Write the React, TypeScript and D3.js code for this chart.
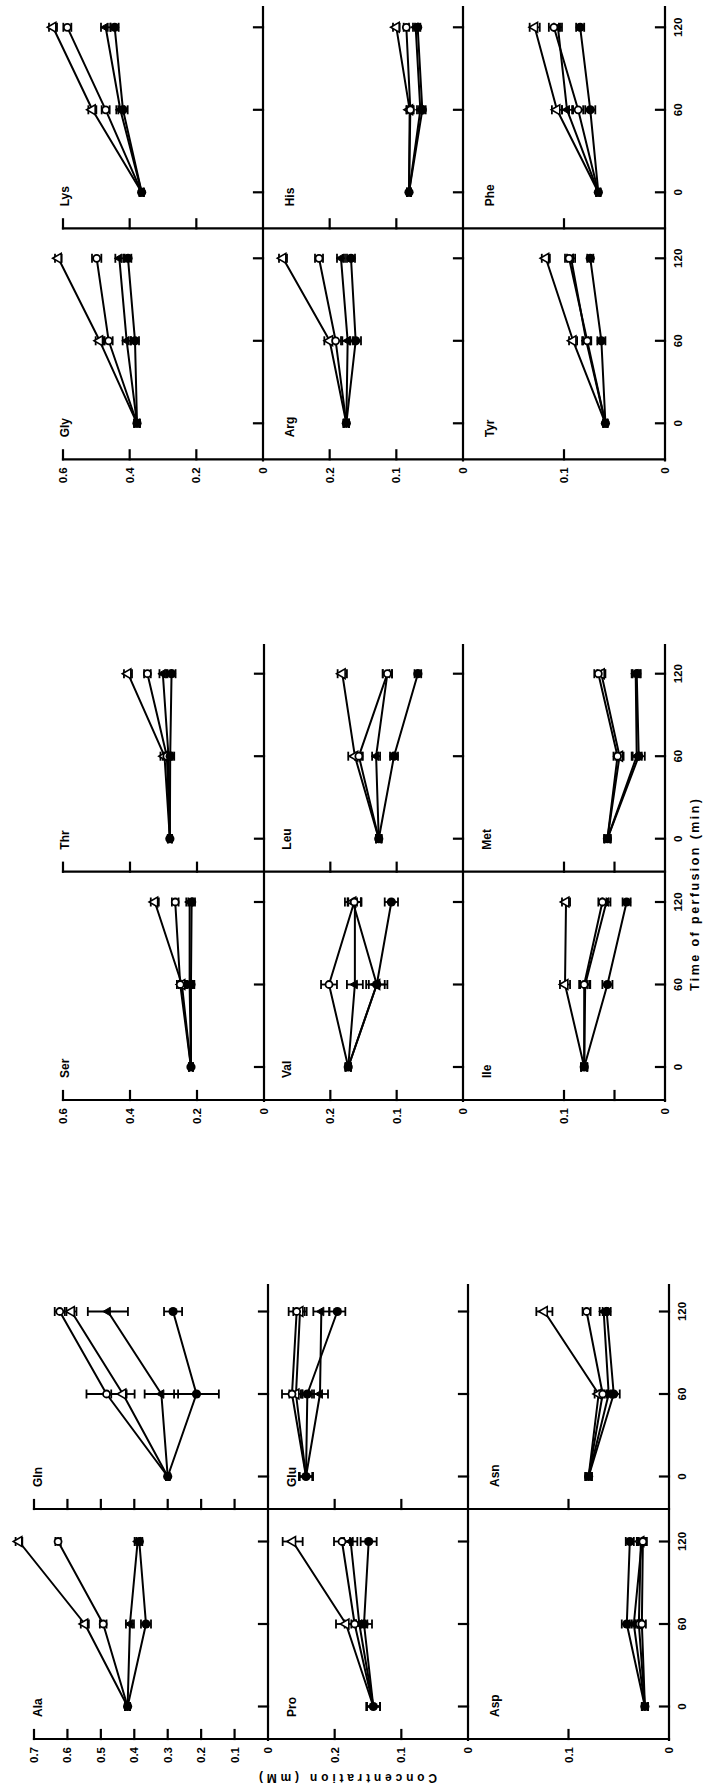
import React from 'react';
import * as d3 from 'd3';

// the whole figure is printed turned 90deg: concentration runs right->left, time runs bottom->top
const W = 705;
const H = 1788;

const times = [0, 60, 120];
// series order in every table: filled circle, open circle, open triangle, filled triangle
// rows = series, columns = time point

const alaMean = [[0.42, 0.365, 0.385], [0.42, 0.493, 0.628], [0.42, 0.548, 0.745], [0.42, 0.413, 0.39]];
const alaErr = [[0.007, 0.015, 0.009], [0.007, 0.01, 0.008], [0.007, 0.012, 0.01], [0.007, 0.012, 0.009]];
const glnMean = [[0.3, 0.214, 0.284], [0.3, 0.483, 0.623], [0.3, 0.434, 0.588], [0.3, 0.319, 0.479]];
const glnErr = [[0.005, 0.067, 0.027], [0.005, 0.06, 0.015], [0.005, 0.035, 0.015], [0.005, 0.05, 0.06]];
const proMean = [[0.142, 0.156, 0.149], [0.142, 0.17, 0.189], [0.142, 0.183, 0.263], [0.142, 0.163, 0.176]];
const proErr = [[0.01, 0.012, 0.012], [0.01, 0.015, 0.012], [0.01, 0.015, 0.015], [0.01, 0.012, 0.01]];
const gluMean = [[0.243, 0.241, 0.196], [0.243, 0.264, 0.257], [0.243, 0.258, 0.252], [0.243, 0.222, 0.22]];
const gluErr = [[0.01, 0.01, 0.012], [0.01, 0.015, 0.012], [0.01, 0.01, 0.01], [0.01, 0.012, 0.012]];
const aspMean = [[0.024, 0.042, 0.039], [0.024, 0.027, 0.026], [0.024, 0.03, 0.028], [0.024, 0.035, 0.027]];
const aspErr = [[0.003, 0.005, 0.004], [0.003, 0.004, 0.004], [0.003, 0.004, 0.004], [0.003, 0.004, 0.004]];
const asnMean = [[0.08, 0.055, 0.062], [0.08, 0.066, 0.082], [0.08, 0.07, 0.124], [0.08, 0.06, 0.065]];
const asnErr = [[0.003, 0.006, 0.004], [0.003, 0.004, 0.004], [0.003, 0.004, 0.008], [0.003, 0.004, 0.004]];

const serMean = [[0.218, 0.218, 0.216], [0.218, 0.25, 0.265], [0.218, 0.245, 0.326], [0.218, 0.222, 0.222]];
const serErr = [[0.006, 0.01, 0.01], [0.006, 0.01, 0.01], [0.006, 0.01, 0.012], [0.006, 0.01, 0.01]];
const thrMean = [[0.281, 0.28, 0.276], [0.281, 0.29, 0.348], [0.281, 0.297, 0.406], [0.281, 0.285, 0.302]];
const thrErr = [[0.006, 0.012, 0.012], [0.006, 0.012, 0.01], [0.006, 0.012, 0.012], [0.006, 0.012, 0.01]];
const valMean = [[0.173, 0.13, 0.108], [0.173, 0.202, 0.164], [0.173, 0.13, 0.166], [0.173, 0.163, 0.163]];
const valErr = [[0.004, 0.016, 0.01], [0.004, 0.012, 0.01], [0.004, 0.012, 0.012], [0.004, 0.012, 0.01]];
const leuMean = [[0.127, 0.104, 0.068], [0.127, 0.157, 0.114], [0.127, 0.163, 0.182], [0.127, 0.131, 0.114]];
const leuErr = [[0.004, 0.006, 0.005], [0.004, 0.006, 0.007], [0.004, 0.01, 0.007], [0.004, 0.006, 0.007]];
const ileMean = [[0.08, 0.057, 0.038], [0.08, 0.08, 0.062], [0.08, 0.099, 0.098], [0.08, 0.079, 0.058]];
const ileErr = [[0.003, 0.005, 0.004], [0.003, 0.005, 0.004], [0.003, 0.005, 0.004], [0.003, 0.005, 0.004]];
const metMean = [[0.057, 0.026, 0.028], [0.057, 0.047, 0.066], [0.057, 0.045, 0.063], [0.057, 0.028, 0.029]];
const metErr = [[0.003, 0.006, 0.004], [0.003, 0.004, 0.004], [0.003, 0.004, 0.004], [0.003, 0.005, 0.004]];

const glyMean = [[0.378, 0.384, 0.405], [0.378, 0.463, 0.499], [0.378, 0.49, 0.614], [0.378, 0.409, 0.431]];
const glyErr = [[0.008, 0.012, 0.01], [0.008, 0.012, 0.014], [0.008, 0.012, 0.01], [0.008, 0.012, 0.012]];
const lysMean = [[0.364, 0.42, 0.445], [0.364, 0.472, 0.587], [0.364, 0.512, 0.63], [0.364, 0.428, 0.472]];
const lysErr = [[0.006, 0.014, 0.012], [0.006, 0.012, 0.012], [0.006, 0.012, 0.012], [0.006, 0.012, 0.014]];
const argMean = [[0.175, 0.161, 0.168], [0.175, 0.191, 0.216], [0.175, 0.2, 0.27], [0.175, 0.173, 0.183]];
const argErr = [[0.004, 0.008, 0.006], [0.004, 0.008, 0.006], [0.004, 0.008, 0.006], [0.004, 0.008, 0.006]];
const hisMean = [[0.081, 0.061, 0.068], [0.081, 0.079, 0.085], [0.081, 0.08, 0.1], [0.081, 0.064, 0.071]];
const hisErr = [[0.003, 0.005, 0.004], [0.003, 0.005, 0.004], [0.003, 0.005, 0.005], [0.003, 0.005, 0.004]];
const tyrMean = [[0.059, 0.063, 0.074], [0.059, 0.077, 0.095], [0.059, 0.091, 0.118], [0.059, 0.078, 0.093]];
const tyrErr = [[0.002, 0.004, 0.003], [0.002, 0.004, 0.004], [0.002, 0.004, 0.004], [0.002, 0.004, 0.004]];
const pheMean = [[0.066, 0.074, 0.084], [0.066, 0.086, 0.11], [0.066, 0.107, 0.129], [0.066, 0.097, 0.106]];
const pheErr = [[0.002, 0.005, 0.004], [0.002, 0.005, 0.005], [0.002, 0.005, 0.005], [0.002, 0.005, 0.004]];

// three blocks (bottom, middle, top of the page), each with three strips of two panels
const blocks = [
  {
    axisY: 1739, midY: 1509, topY: 1285, tOff: 32.5,
    strips: [
      { zero: 268, top: 34, max: 0.7, ticks: [0.7, 0.6, 0.5, 0.4, 0.3, 0.2, 0.1], labels: [0.7, 0.6, 0.5, 0.4, 0.3, 0.2, 0.1, 0], nameDx: 4 },
      { zero: 468, top: 268, max: 0.3, ticks: [0.2, 0.1], labels: [0.2, 0.1, 0], nameDx: 24 },
      { zero: 669, top: 468, max: 0.2, ticks: [0.1], labels: [0.1, 0], nameDx: 27 },
    ],
  },
  {
    axisY: 1100, midY: 871.7, topY: 645, tOff: 33,
    strips: [
      { zero: 264, top: 63, max: 0.6, ticks: [0.6, 0.4, 0.2], labels: [0.6, 0.4, 0.2, 0], nameDx: 2 },
      { zero: 463, top: 264, max: 0.3, ticks: [0.2, 0.1], labels: [0.2, 0.1, 0], nameDx: 23 },
      { zero: 665, top: 463, max: 0.2, ticks: [0.1, 0.05], labels: [0.1, 0], nameDx: 24 },
    ],
  },
  {
    axisY: 459.3, midY: 228.3, topY: 7, tOff: 36,
    strips: [
      { zero: 263, top: 63, max: 0.6, ticks: [0.6, 0.4, 0.2], labels: [0.6, 0.4, 0.2, 0], nameDx: 2 },
      { zero: 463, top: 263, max: 0.3, ticks: [0.2, 0.1], labels: [0.2, 0.1, 0], nameDx: 27 },
      { zero: 665, top: 463, max: 0.2, ticks: [0.1], labels: [0.1, 0], nameDx: 27 },
    ],
  },
];

const panels = [
  { name: 'Ala', block: 0, strip: 0, upper: false, mean: alaMean, err: alaErr },
  { name: 'Gln', block: 0, strip: 0, upper: true, mean: glnMean, err: glnErr },
  { name: 'Pro', block: 0, strip: 1, upper: false, mean: proMean, err: proErr },
  { name: 'Glu', block: 0, strip: 1, upper: true, mean: gluMean, err: gluErr },
  { name: 'Asp', block: 0, strip: 2, upper: false, mean: aspMean, err: aspErr },
  { name: 'Asn', block: 0, strip: 2, upper: true, mean: asnMean, err: asnErr },
  { name: 'Ser', block: 1, strip: 0, upper: false, mean: serMean, err: serErr },
  { name: 'Thr', block: 1, strip: 0, upper: true, mean: thrMean, err: thrErr },
  { name: 'Val', block: 1, strip: 1, upper: false, mean: valMean, err: valErr },
  { name: 'Leu', block: 1, strip: 1, upper: true, mean: leuMean, err: leuErr },
  { name: 'Ile', block: 1, strip: 2, upper: false, mean: ileMean, err: ileErr },
  { name: 'Met', block: 1, strip: 2, upper: true, mean: metMean, err: metErr },
  { name: 'Gly', block: 2, strip: 0, upper: false, mean: glyMean, err: glyErr },
  { name: 'Lys', block: 2, strip: 0, upper: true, mean: lysMean, err: lysErr },
  { name: 'Arg', block: 2, strip: 1, upper: false, mean: argMean, err: argErr },
  { name: 'His', block: 2, strip: 1, upper: true, mean: hisMean, err: hisErr },
  { name: 'Tyr', block: 2, strip: 2, upper: false, mean: tyrMean, err: tyrErr },
  { name: 'Phe', block: 2, strip: 2, upper: true, mean: pheMean, err: pheErr },
];

const FONT = '"Liberation Sans", Arial, Helvetica, sans-serif';
const SW = 2.2;
const TICK = 9;
const SPAN = 165; // pixels for 120 min

const fmt = (v: number) => (v === 0 ? '0' : v.toFixed(1));

function Marker({ kind, x, y }: { kind: number; x: number; y: number }) {
  if (kind === 0) return <circle cx={x} cy={y} r={4.6} fill="#000" />;
  if (kind === 1) return <circle cx={x} cy={y} r={3.5} fill="#fff" stroke="#000" strokeWidth={1.8} />;
  const d = d3.symbol(d3.symbolTriangle, kind === 2 ? 42 : 32)() as string;
  return (
    <path d={d} transform={`translate(${x},${y}) rotate(-90)`}
      fill={kind === 2 ? '#fff' : '#000'} stroke="#000" strokeWidth={kind === 2 ? 1.6 : 1} />
  );
}

function Panel({ p }: { p: (typeof panels)[number] }) {
  const block = blocks[p.block];
  const strip = block.strips[p.strip];
  const base = p.upper ? block.midY : block.axisY;
  const x = d3.scaleLinear().domain([0, strip.max]).range([strip.zero, strip.top]);
  const y = d3.scaleLinear().domain([0, 120]).range([base - block.tOff, base - block.tOff - SPAN]);
  const line = d3.line<number>().x((v) => x(v)).y((_, i) => y(times[i]));
  const order = [2, 3, 1, 0];
  return (
    <g>
      {p.mean.map((s, k) => (
        <path key={'l' + k} d={line(s) as string} fill="none" stroke="#000" strokeWidth={2} strokeLinejoin="round" />
      ))}
      {p.mean.map((s, k) =>
        s.map((v, i) => {
          const e = p.err[k][i];
          const yy = y(times[i]);
          const x1 = x(v - e);
          const x2 = x(v + e);
          return (
            <g key={`e${k}-${i}`} stroke="#000" strokeWidth={1.8}>
              <line x1={x1} x2={x2} y1={yy} y2={yy} />
              <line x1={x1} x2={x1} y1={yy - 4.5} y2={yy + 4.5} />
              <line x1={x2} x2={x2} y1={yy - 4.5} y2={yy + 4.5} />
            </g>
          );
        })
      )}
      {/* at time 0 every group shares the same start value: only the filled circle is visible */}
      {order.map((k) =>
        p.mean[k].map((v, i) =>
          i === 0 && k !== 0 ? null : <Marker key={`m${k}-${i}`} kind={k} x={x(v)} y={y(times[i])} />
        )
      )}
      <text transform={`translate(${strip.top + strip.nameDx},${base - 22}) rotate(-90)`}
        fontFamily={FONT} fontSize={12} fontWeight="bold" dominantBaseline="central">{p.name}</text>
    </g>
  );
}

function Frame({ b }: { b: (typeof blocks)[number] }) {
  const left = b.strips[0].top;
  const right = b.strips[2].zero;
  const els: React.ReactNode[] = [];
  [b.axisY, b.midY].forEach((base, bi) => {
    els.push(<line key={'h' + bi} x1={left} x2={right} y1={base} y2={base} />);
    const y = d3.scaleLinear().domain([0, 120]).range([base - b.tOff, base - b.tOff - SPAN]);
    b.strips.forEach((s, si) => {
      const x = d3.scaleLinear().domain([0, s.max]).range([s.zero, s.top]);
      s.ticks.forEach((v) => {
        els.push(<line key={`vt${bi}-${si}-${v}`} x1={x(v)} x2={x(v)} y1={base} y2={base - TICK} />);
      });
      times.forEach((t) => {
        els.push(<line key={`tt${bi}-${si}-${t}`} x1={s.zero - TICK} x2={s.zero} y1={y(t)} y2={y(t)} />);
      });
    });
  });
  b.strips.forEach((s, si) => {
    els.push(<line key={'v' + si} x1={s.zero} x2={s.zero} y1={b.topY} y2={b.axisY + 1} />);
  });
  return <g stroke="#000" strokeWidth={SW} strokeLinecap="square">{els}</g>;
}

function FrameText({ b }: { b: (typeof blocks)[number] }) {
  const right = b.strips[2].zero;
  const els: React.ReactNode[] = [];
  b.strips.forEach((s, si) => {
    const x = d3.scaleLinear().domain([0, s.max]).range([s.zero, s.top]);
    s.labels.forEach((v) => {
      els.push(
        <text key={`vl${si}-${v}`} transform={`translate(${x(v)},${b.axisY + 8}) rotate(-90)`}
          textAnchor="end" dominantBaseline="central">{fmt(v)}</text>
      );
    });
  });
  [b.axisY, b.midY].forEach((base, bi) => {
    const y = d3.scaleLinear().domain([0, 120]).range([base - b.tOff, base - b.tOff - SPAN]);
    times.forEach((t) => {
      els.push(
        <text key={`tl${bi}-${t}`} transform={`translate(${right + 13},${y(t)}) rotate(-90)`}
          textAnchor="middle" dominantBaseline="central">{t}</text>
      );
    });
  });
  return <g fontFamily={FONT} fontSize={11.5} fontWeight="bold" fill="#000">{els}</g>;
}

export default function App() {
  return (
    <svg width={W} height={H} viewBox={`0 0 ${W} ${H}`}
      style={{ position: 'absolute', left: 0, top: 0, background: '#fff' }}>
      <rect x={0} y={0} width={W} height={H} fill="#fff" />
      {blocks.map((b, i) => <Frame key={'f' + i} b={b} />)}
      {blocks.map((b, i) => <FrameText key={'t' + i} b={b} />)}
      {panels.map((p) => <Panel key={p.name} p={p} />)}
      <text transform="translate(695,895) rotate(-90)" textAnchor="middle" dominantBaseline="central"
        fontFamily={FONT} fontSize={12.5} fontWeight="bold" textLength={192} lengthAdjust="spacing">
        Time of perfusion (min)
      </text>
      <text transform="translate(348,1778) rotate(180)" textAnchor="middle" dominantBaseline="central"
        fontFamily={FONT} fontSize={12} fontWeight="bold" textLength={178} lengthAdjust="spacing">
        Concentration (mM)
      </text>
    </svg>
  );
}
